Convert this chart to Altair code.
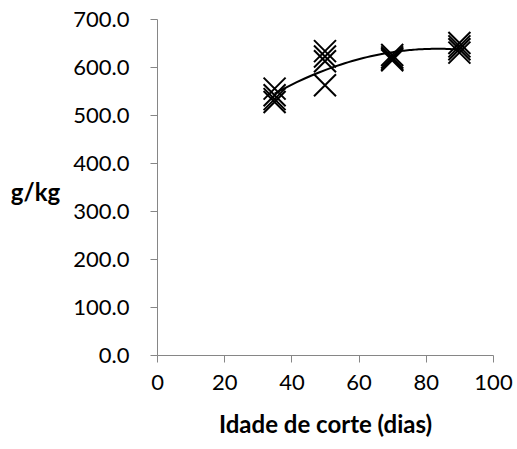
import altair as alt
import pandas as pd

# Data
idade = [35, 35, 35, 35, 50, 50, 50, 50, 70, 70, 70, 70, 90, 90, 90, 90]
valor = [555, 541, 533, 527, 633, 622, 612, 562, 625, 620, 617, 614, 650, 643, 637, 630]

x_ticks = [0, 20, 40, 60, 80, 100]
y_ticks = [0, 100, 200, 300, 400, 500, 600, 700]

df = pd.DataFrame({"idade": idade, "valor": valor})

FONT = "Lato"
AXIS_GRAY = "#868686"
X_SHAPE = "M-1,-1L1,1M-1,1L1,-1"

x_enc = alt.X(
    "idade:Q",
    scale=alt.Scale(domain=[0, 100], nice=False, zero=False),
    axis=alt.Axis(
        values=x_ticks,
        title="Idade de corte (dias)",
        grid=False,
        domainColor=AXIS_GRAY,
        tickColor=AXIS_GRAY,
        tickSize=7,
        labelPadding=10,
        labelFlush=False,
        labelOverlap=False,
        labelFont=FONT,
        labelFontSize=22,
        labelColor="#000000",
        titleFont=FONT,
        titleFontSize=24,
        titleFontWeight="bold",
        titleColor="#000000",
        titleBaseline="middle",
        titleY=70,
    ),
)
y_enc = alt.Y(
    "valor:Q",
    scale=alt.Scale(domain=[0, 700], nice=False, zero=True),
    axis=alt.Axis(
        values=y_ticks,
        format=".1f",
        title="g/kg",
        grid=False,
        domainColor=AXIS_GRAY,
        tickColor=AXIS_GRAY,
        tickSize=7,
        labelPadding=21,
        labelFlush=False,
        labelOverlap=False,
        labelFont=FONT,
        labelFontSize=22,
        labelColor="#000000",
        titleFont=FONT,
        titleFontSize=24,
        titleFontWeight="bold",
        titleColor="#000000",
        titleAngle=0,
        titleAlign="center",
        titleBaseline="middle",
        titleX=-122,
        titleY=174,
    ),
)

points = alt.Chart(df).mark_point(
    shape=X_SHAPE, filled=False, stroke="#000000", strokeWidth=2, size=484, opacity=1
).encode(x=x_enc, y=y_enc)

trend = (
    alt.Chart(df)
    .transform_regression("idade", "valor", method="poly", order=2, extent=[35, 90])
    .mark_line(color="#000000", strokeWidth=2)
    .encode(x=x_enc, y=y_enc)
)

chart = (
    alt.layer(points, trend)
    .properties(
        width=336,
        height=336,
        autosize=alt.AutoSizeParams(type="none"),
        padding={"left": 157, "top": 19, "right": 24, "bottom": 94},
        background="#ffffff",
    )
    .configure_view(stroke=None)
)

chart.save("out.html", embed_options={"renderer": "svg", "actions": False})
